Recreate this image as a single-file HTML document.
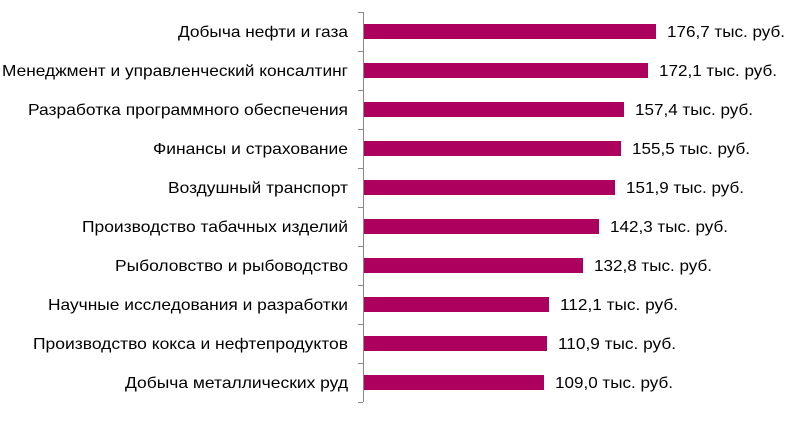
<!DOCTYPE html>
<html><head><meta charset="utf-8"><style>
body{margin:0;background:#fff;}
svg text{font-family:"Liberation Sans",sans-serif;font-size:16px;fill:#000;}
</style></head><body>
<svg width="797" height="420" xmlns="http://www.w3.org/2000/svg">
<g stroke="#888" stroke-width="1" fill="none">
<line x1="363.5" y1="12" x2="363.5" y2="402"/>
<path d="M358 12.5H363 M358 51.5H363 M358 90.5H363 M358 129.5H363 M358 168.5H363 M358 207.5H363 M358 246.5H363 M358 285.5H363 M358 324.5H363 M358 363.5H363 M358 402.5H363"/>
</g>
<g fill="#AD005E">
<rect x="364" y="24" width="292" height="15"/>
<rect x="364" y="63" width="284" height="15"/>
<rect x="364" y="102" width="260" height="15"/>
<rect x="364" y="141" width="257" height="15"/>
<rect x="364" y="180" width="251" height="15"/>
<rect x="364" y="219" width="235" height="15"/>
<rect x="364" y="258" width="219" height="15"/>
<rect x="364" y="297" width="185" height="15"/>
<rect x="364" y="336" width="183" height="15"/>
<rect x="364" y="375" width="180" height="15"/>
</g>
<g>
<text x="178" y="37" textLength="170" lengthAdjust="spacingAndGlyphs">Добыча нефти и газа</text>
<text x="2" y="76" textLength="346" lengthAdjust="spacingAndGlyphs">Менеджмент и управленческий консалтинг</text>
<text x="28" y="115" textLength="320" lengthAdjust="spacingAndGlyphs">Разработка программного обеспечения</text>
<text x="153" y="154" textLength="195" lengthAdjust="spacingAndGlyphs">Финансы и страхование</text>
<text x="168" y="193" textLength="180" lengthAdjust="spacingAndGlyphs">Воздушный транспорт</text>
<text x="82" y="232" textLength="266" lengthAdjust="spacingAndGlyphs">Производство табачных изделий</text>
<text x="115" y="271" textLength="233" lengthAdjust="spacingAndGlyphs">Рыболовство и рыбоводство</text>
<text x="48" y="310" textLength="300" lengthAdjust="spacingAndGlyphs">Научные исследования и разработки</text>
<text x="33" y="349" textLength="315" lengthAdjust="spacingAndGlyphs">Производство кокса и нефтепродуктов</text>
<text x="125" y="388" textLength="223" lengthAdjust="spacingAndGlyphs">Добыча металлических руд</text>
</g>
<g>
<text x="667" y="37" textLength="118" lengthAdjust="spacingAndGlyphs">176,7 тыс. руб.</text>
<text x="659" y="76" textLength="118" lengthAdjust="spacingAndGlyphs">172,1 тыс. руб.</text>
<text x="635" y="115" textLength="118" lengthAdjust="spacingAndGlyphs">157,4 тыс. руб.</text>
<text x="632" y="154" textLength="118" lengthAdjust="spacingAndGlyphs">155,5 тыс. руб.</text>
<text x="626" y="193" textLength="118" lengthAdjust="spacingAndGlyphs">151,9 тыс. руб.</text>
<text x="610" y="232" textLength="118" lengthAdjust="spacingAndGlyphs">142,3 тыс. руб.</text>
<text x="594" y="271" textLength="118" lengthAdjust="spacingAndGlyphs">132,8 тыс. руб.</text>
<text x="560" y="310" textLength="118" lengthAdjust="spacingAndGlyphs">112,1 тыс. руб.</text>
<text x="558" y="349" textLength="118" lengthAdjust="spacingAndGlyphs">110,9 тыс. руб.</text>
<text x="555" y="388" textLength="118" lengthAdjust="spacingAndGlyphs">109,0 тыс. руб.</text>
</g>
</svg>
</body></html>
